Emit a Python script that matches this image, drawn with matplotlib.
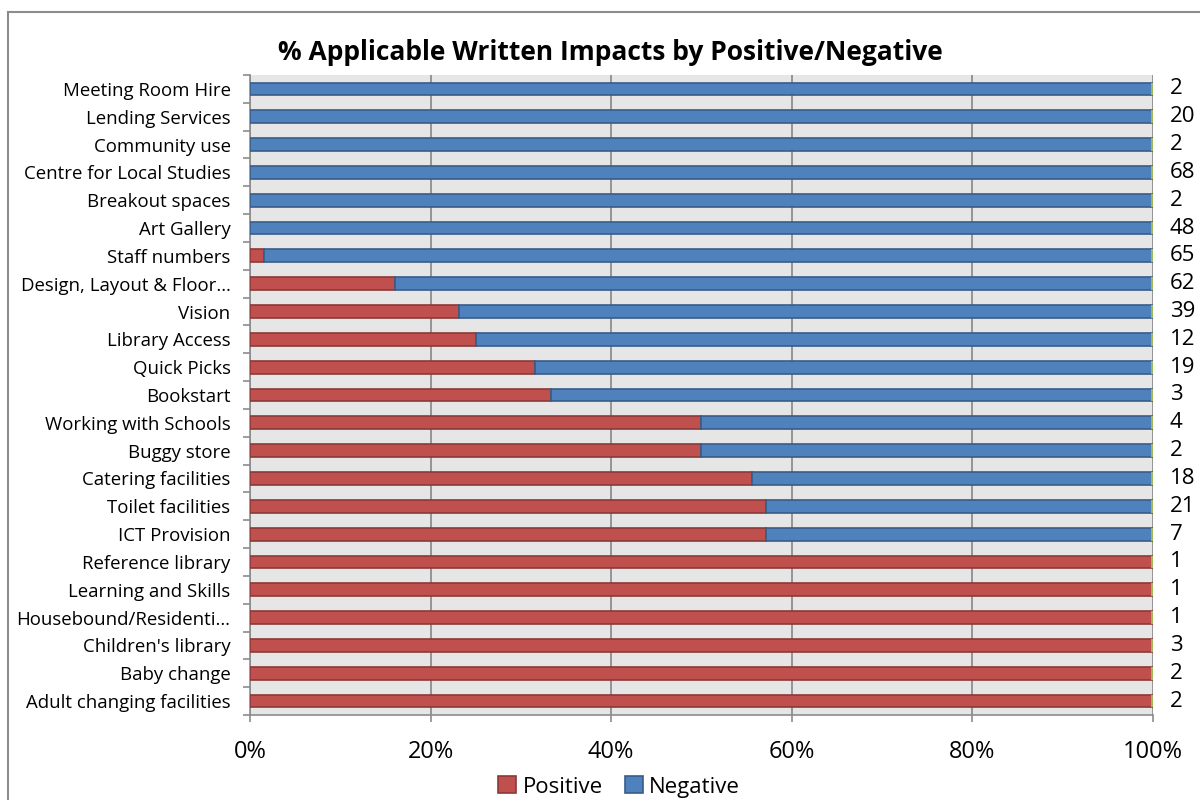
import numpy as np
import matplotlib.pyplot as plt
from matplotlib.lines import Line2D

# categories listed bottom -> top
categories = ["Adult changing facilities", "Baby change", "Children's library",
              "Housebound/Residenti…", "Learning and Skills", "Reference library",
              "ICT Provision", "Toilet facilities", "Catering facilities", "Buggy store",
              "Working with Schools", "Bookstart", "Quick Picks", "Library Access",
              "Vision", "Design, Layout & Floor…", "Staff numbers", "Art Gallery",
              "Breakout spaces", "Centre for Local Studies", "Community use",
              "Lending Services", "Meeting Room Hire"]
positive_pct = [100, 100, 100, 100, 100, 100, 57.1, 57.1, 55.6, 50, 50, 33.3, 31.6,
                25, 23.1, 16.1, 1.5, 0, 0, 0, 0, 0, 0]
totals = [2, 2, 3, 1, 1, 1, 7, 21, 18, 2, 4, 3, 19, 12, 39, 62, 65, 48, 2, 68, 2, 20, 2]
x_ticks = [0, 20, 40, 60, 80, 100]

plt.rcParams['font.family'] = ['Open Sans', 'DejaVu Sans']

pos = np.array(positive_pct)
neg = 100 - pos
y = np.arange(len(categories))

fig = plt.figure(figsize=(12, 8), dpi=100)
# chart border (only top and left edges fall inside the image)
fig.lines.append(Line2D([8 / 1200, 1.0], [1 - 12 / 800] * 2, transform=fig.transFigure,
                        color='#8c8c8c', linewidth=1.5))
fig.lines.append(Line2D([8 / 1200] * 2, [0, 1 - 12 / 800], transform=fig.transFigure,
                        color='#8c8c8c', linewidth=1.5))

ax = fig.add_axes([0.2083, 0.10625, 0.7525, 0.8])
ax.set_facecolor('#e6e6e6')

h = 0.46
ax.barh(y, pos, height=h, color='#C0504D', edgecolor='#8C3836', linewidth=1.2,
        label='Positive', zorder=3)
ax.barh(y, neg, left=pos, height=h, color='#4F81BD', edgecolor='#385D8A', linewidth=1.2,
        label='Negative', zorder=3)
# thin green series at the end holding the totals
ax.barh(y, 0.25, left=99.8, height=h, color='#9BBB59', linewidth=0, zorder=4)

ax.set_xlim(0, 100)
ax.set_ylim(-0.5, len(categories) - 0.5)
ax.set_xticks(x_ticks)
ax.set_xticklabels([f"{t}%" for t in x_ticks], fontsize=17)
ax.set_yticks(y)
ax.set_yticklabels(categories, fontsize=13.4)
ax.set_yticks(np.arange(-0.5, len(categories), 1), minor=True)
ax.tick_params(axis='y', which='major', length=0, pad=14)
ax.tick_params(axis='y', which='minor', length=5, color='#8c8c8c', width=1.2)
ax.tick_params(axis='x', length=5, color='#8c8c8c', width=1.2, pad=13)
ax.grid(axis='x', color='#868686', linewidth=1.2, zorder=1)
for s in ['top', 'right']:
    ax.spines[s].set_visible(False)
for s in ['left', 'bottom']:
    ax.spines[s].set_color('#8c8c8c')
    ax.spines[s].set_linewidth(1.2)

for yi, t in zip(y, totals):
    ax.annotate(str(t), (100, yi), xytext=(12, 0), textcoords='offset points',
                va='center', ha='left', fontsize=16, annotation_clip=False)

fig.text(610 / 1200, 1 - 52 / 800, '% Applicable Written Impacts by Positive/Negative',
         fontsize=19, fontweight='bold', ha='center', va='center')
handles, labels = ax.get_legend_handles_labels()
fig.legend(handles, labels, loc='center', bbox_to_anchor=(619 / 1200, 1 - 787 / 800),
           ncol=2, frameon=False, fontsize=16, handlelength=0.8, handleheight=0.8,
           handletextpad=0.3, columnspacing=1.0, borderpad=0)

fig.savefig('out.png', dpi=100)
